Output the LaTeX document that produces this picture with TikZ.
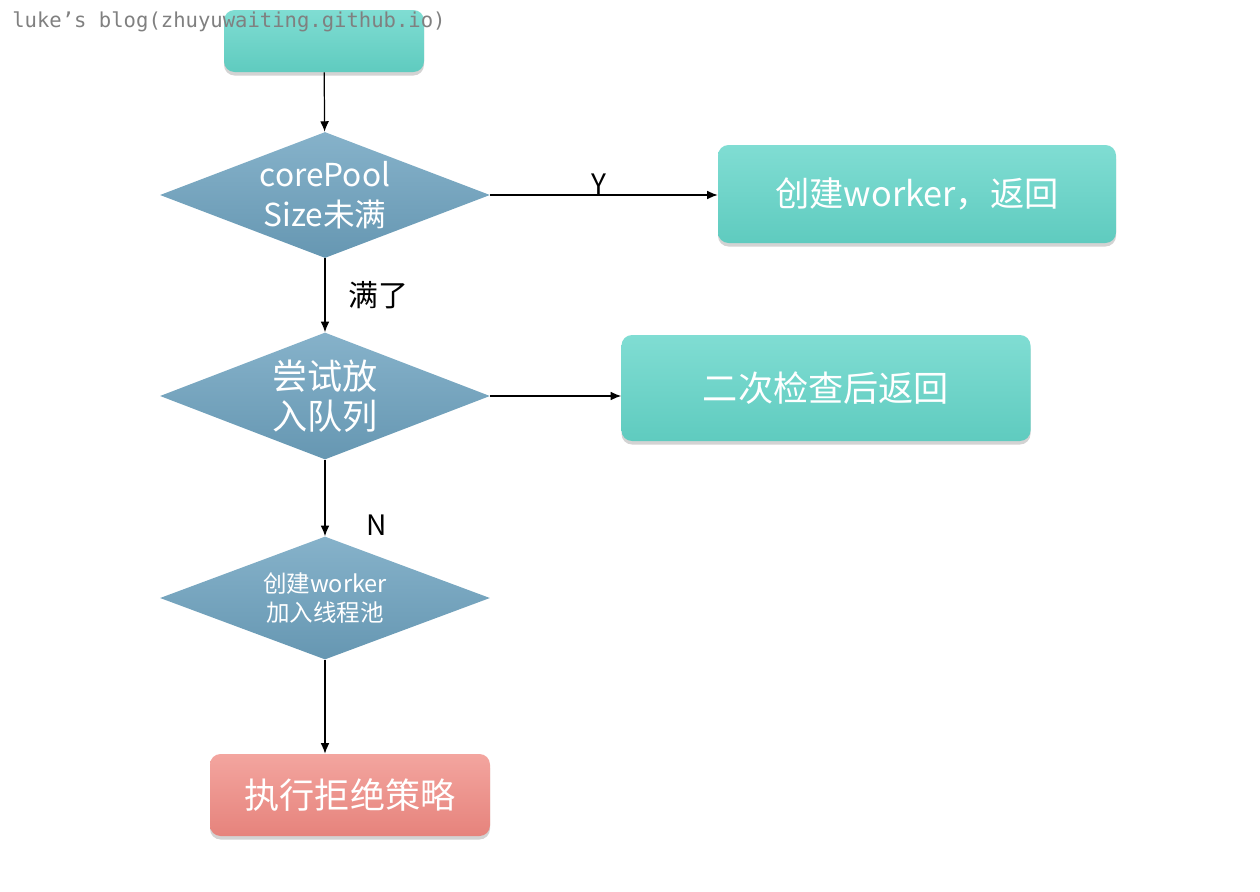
\documentclass[tikz,border=0pt]{standalone}
\usepackage{fontspec}
\setmainfont{Noto Sans CJK SC}
\newfontfamily\markfont{DejaVu Sans Mono}
\usetikzlibrary{shapes.geometric,shadows,arrows.meta}
\definecolor{tealtop}{HTML}{80DDD3}
\definecolor{tealbot}{HTML}{5FCBBF}
\definecolor{bluetop}{HTML}{86B2CA}
\definecolor{bluebot}{HTML}{6697B2}
\definecolor{redtop}{HTML}{F3A59F}
\definecolor{redbot}{HTML}{E6837C}
\begin{document}
\begin{tikzpicture}[
  okbox/.style={rectangle,rounded corners=6pt,top color=tealtop,bottom color=tealbot,
    draw=none,text=white,drop shadow={opacity=0.35,shadow xshift=0pt,shadow yshift=-2pt}},
  askbox/.style={diamond,aspect=2.62,top color=bluetop,bottom color=bluebot,draw=none,text=white,
    inner sep=0pt,minimum width=6.6cm,align=center},
  flow/.style={-{Latex[length=6pt,width=5pt]},line width=0.7pt}]
\useasboundingbox (0,0) rectangle (25.2,-17.84);
\node[okbox,minimum width=4cm,minimum height=1.24cm] (start) at (6.48,-0.82) {};
\node[askbox,minimum height=2.52cm,font=\fontsize{18}{23}\selectfont] (D1) at (6.5,-3.9) {corePool\\Size未满};
\node[okbox,minimum width=7.96cm,minimum height=1.96cm,font=\fontsize{19.5}{22}\selectfont] (B1) at (18.34,-3.88) {创建worker，返回};
\node[askbox,minimum height=2.54cm,font=\fontsize{20}{22.7}\selectfont] (D2) at (6.5,-7.92) {尝试放\\入队列};
\node[okbox,minimum width=8.18cm,minimum height=2.12cm,font=\fontsize{20}{24}\selectfont] (B2) at (16.52,-7.76) {二次检查后返回};
\node[askbox,minimum height=2.46cm,font=\fontsize{13.4}{16.4}\selectfont] (D3) at (6.5,-11.96) {创建worker\\加入线程池};
\node[okbox,top color=redtop,bottom color=redbot,minimum width=5.6cm,minimum height=1.64cm,font=\fontsize{20}{24}\selectfont] (R) at (7.0,-15.9) {执行拒绝策略};
\node[text=gray,anchor=west,inner sep=0pt,font=\markfont\fontsize{11.7}{13}\selectfont] (mark) at (0.24,-0.44) {luke’s blog(zhuyuwaiting.github.io)};
\draw[flow] (start) -- (D1);
\draw[flow] (D1.east) -- node[midway,above,inner sep=0pt,xshift=-0.1cm,font=\fontsize{16}{18}\selectfont]{Y} (D1.east -| B1.west);
\draw[flow] (D1) -- node[midway,right,xshift=0.35cm,font=\fontsize{17}{20}\selectfont]{满了} (D2);
\draw[flow] (D2.east) -- (D2.east -| B2.west);
\draw[flow] (D2) -- node[pos=0.85,right,xshift=0.7cm,font=\fontsize{16}{18}\selectfont]{N} (D3);
\draw[flow] (D3.south) -- (D3.south |- R.north);
\end{tikzpicture}
\end{document}
